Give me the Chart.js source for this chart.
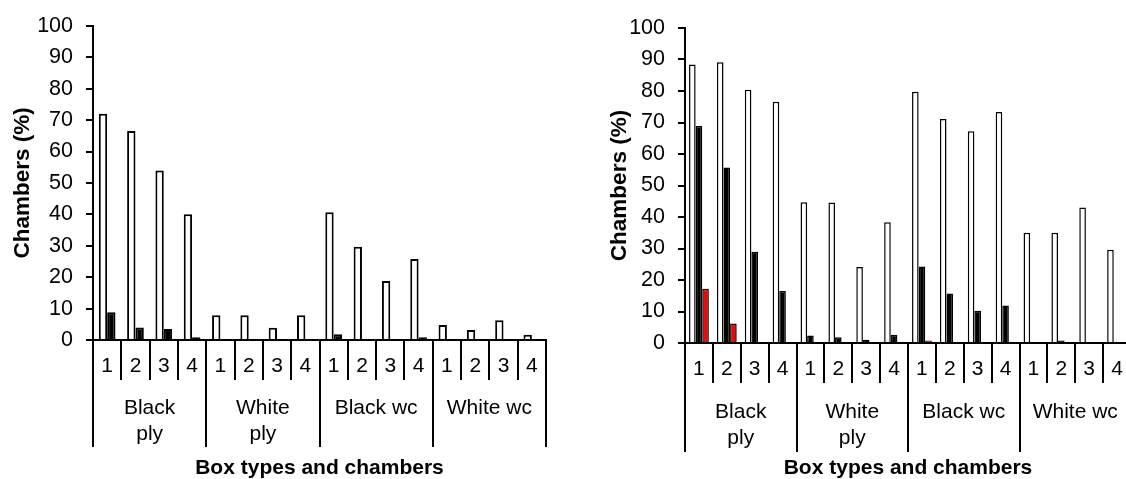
<!DOCTYPE html>
<html>
<head>
<meta charset="utf-8">
<script src="https://cdn.jsdelivr.net/npm/chart.js@4/dist/chart.umd.min.js"></script>
<style>
html, body { margin: 0; padding: 0; background: #fff; overflow: hidden; width: 1126px; height: 479px; }
#left { position: absolute; left: 0; top: 0; }
#right { position: absolute; left: 597px; top: 0; }
</style>
</head>
<body>
<canvas id="left" width="560" height="479"></canvas>
<canvas id="right" width="548" height="479"></canvas>
<script>
var chambers = ['1','2','3','4','1','2','3','4','1','2','3','4','1','2','3','4'];
var groups = [['Black','ply'], ['White','ply'], ['Black wc'], ['White wc']];

// left panel
var leftWhite = [72, 66.5, 54, 40, 7.9, 7.9, 3.9, 7.9, 40.7, 29.7, 18.8, 25.8, 4.8, 3.2, 6.3, 1.7];
var leftBlack = [8.8, 4, 3.5, 0.9, 0, 0, 0, 0, 1.8, 0, 0, 0.9, 0, 0, 0, 0];

// right panel
var rightWhite = [88.4, 89.1, 80.4, 76.6, 44.7, 44.6, 24.1, 38.3, 79.8, 71.1, 67.2, 73.3, 35, 35, 43, 29.6];
var rightBlack = [68.9, 55.7, 29, 16.5, 2.4, 1.8, 1, 2.6, 24.3, 15.7, 10.2, 11.9, 0, 0.8, 0, 0];
var rightRed = [17.2, 6.2, 0, 0, 0, 0, 0, 0, 0.8, 0, 0, 0, 0, 0, 0, 0];

Chart.defaults.font.family = "'Liberation Sans', Arial, sans-serif";
Chart.defaults.color = '#000';

function makeChart(id, datasets, cfg) {
	var ctx = document.getElementById(id);
	return new Chart(ctx, {
		type: 'bar',
		data: { labels: chambers, datasets: datasets },
		options: {
			responsive: false,
			animation: false,
			devicePixelRatio: 1,
			layout: { padding: { top: cfg.top, right: 14, left: 0, bottom: 0 } },
			plugins: { legend: { display: false }, tooltip: { enabled: false } },
			datasets: {
				bar: { categoryPercentage: cfg.catPct, barPercentage: 1, borderColor: '#000', borderWidth: cfg.bw }
			},
			scales: {
				y: {
					min: 0, max: 100,
					ticks: { stepSize: 10, padding: 13, font: { size: 21.5 } },
					grid: { drawOnChartArea: false, tickLength: 7, color: '#000', lineWidth: 2 },
					border: { color: '#000', width: 2 },
					title: { display: true, text: 'Chambers (%)', font: { size: 22.5, weight: 'bold' }, padding: { top: 9.5, bottom: 0 } },
					afterFit: function(s) { s.width = cfg.yWidth; }
				},
				x: {
					ticks: { padding: -26, autoSkip: false, maxRotation: 0, font: { size: 21 } },
					grid: { offset: true, drawOnChartArea: false, tickLength: 40, color: '#000', lineWidth: 2 },
					border: { color: '#000', width: 2 },
					afterFit: function(s) { s.height = 40; }
				},
				x2: {
					type: 'category',
					labels: groups,
					position: 'bottom',
					offset: true,
					weight: 1,
					ticks: { padding: cfg.groupPad, autoSkip: false, maxRotation: 0, font: { size: 21, lineHeight: 1.25 } },
					grid: { offset: true, drawOnChartArea: false, tickLength: cfg.groupTick, color: '#000', lineWidth: 2 },
					border: { display: false },
					title: { display: true, text: 'Box types and chambers', font: { size: 21, weight: 'bold' }, padding: { top: 0, bottom: -1.5 } },
					afterFit: function(s) { s.height = cfg.groupH; }
				}
			}
		}
	});
}

makeChart('left', [
	{ label: 'white', data: leftWhite, backgroundColor: '#fff' },
	{ label: 'black', data: leftBlack, backgroundColor: '#000' }
], { top: 23, catPct: 0.59, bw: 2, yWidth: 93, groupTick: 67, groupH: 99, groupPad: -52 });

makeChart('right', [
	{ label: 'white', data: rightWhite, backgroundColor: '#fff' },
	{ label: 'black', data: rightBlack, backgroundColor: '#000' },
	{ label: 'red', data: rightRed, backgroundColor: '#ff0000' }
], { top: 28, catPct: 0.71, bw: 1.5, yWidth: 88, groupTick: 69, groupH: 96, groupPad: -53 });
</script>
</body>
</html>
